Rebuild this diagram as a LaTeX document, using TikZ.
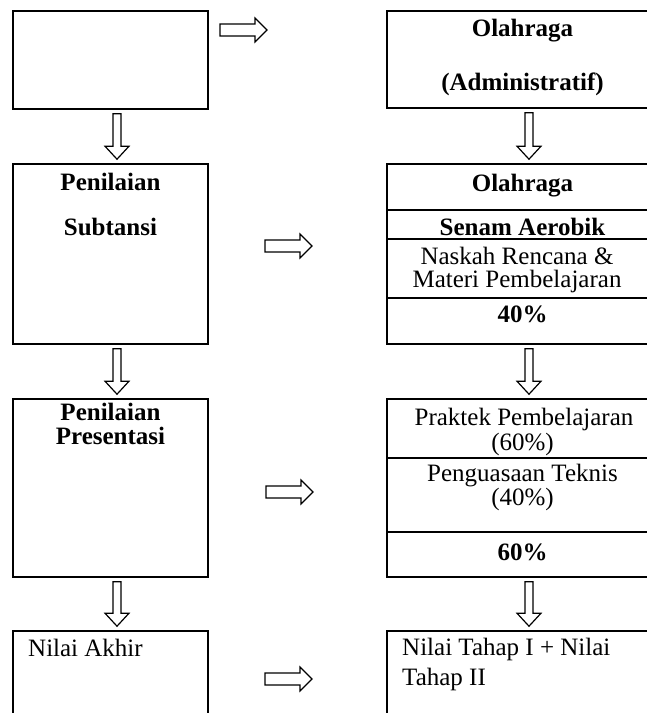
\documentclass[tikz,border=0pt]{standalone}
\usepackage{fontspec}
\setmainfont{Liberation Serif}
\usepackage{tikz}
\usetikzlibrary{calc}
\def\BIG{\fontsize{25}{22}\selectfont}
\def\RA#1{\draw [blk] (#1) ++(0,-6) -- ++(35,0) -- ++(0,-6) -- ++(12,12) -- ++(-12,12) -- ++(0,-6) -- ++(-35,0) -- cycle;}
\def\DA#1#2{\draw [blk] let \p1=([xshift=6.5pt]#1.south), \p2=(#2.north) in (\x1-4pt,\y1-4pt) -- (\x1+4pt,\y1-4pt) -- (\x1+4pt,\y2+17pt) -- (\x1+12pt,\y2+17pt) -- (\x1,\y2+4pt) -- (\x1-12pt,\y2+17pt) -- (\x1-4pt,\y2+17pt) -- cycle;}
\def\SEP#1#2{\draw [sep] (#1.west |- 0,#2) -- (#1.east |- 0,#2);}

\begin{document}
\begin{tikzpicture}[x=1pt,y=-1pt,font=\BIG,
  lbox/.style={draw,line width=1.6pt,minimum width=195pt,inner sep=0pt},
  rbox/.style={draw,line width=1.6pt,minimum width=271pt,inner sep=0pt},
  sep/.style={line width=1.6pt},
  blk/.style={draw,line width=1.2pt,line join=miter,fill=white},
  txt/.style={anchor=base,inner sep=0pt},
  bold/.style={txt,font=\BIG\bfseries}]
\useasboundingbox (0,0) rectangle (647,713);
\clip (0,0) rectangle (647,713);
% left column
\node [lbox,minimum height=98pt] (l1) at (110.5,60) {};
\node [lbox,minimum height=180pt] (l2) at (110.5,254) {};
\node [lbox,minimum height=178pt] (l3) at (110.5,488) {};
\node [lbox,minimum height=110pt] (l4) at (110.5,686) {};
\node [bold] (pen1) at (110.5,190) {Penilaian};
\node [bold] (sub) at (110.5,235) {Subtansi};
\node [bold] (pen2) at (110.5,420) {Penilaian};
\node [bold] (pres) at (110.5,444) {Presentasi};
\node [txt,anchor=base west] (akhir) at (28,656) {Nilai Akhir};
% right column
\node [rbox,minimum height=97pt] (r1) at (522.5,59.5) {};
\node [rbox,minimum height=180pt] (r2) at (522.5,254) {};
\node [rbox,minimum height=178pt] (r3) at (522.5,488) {};
\node [rbox,minimum height=110pt] (r4) at (522.5,686) {};
\SEP{r2}{210} \SEP{r2}{239} \SEP{r2}{298}
\SEP{r3}{458} \SEP{r3}{532}
\node [bold] (ola1) at (522.5,36) {Olahraga};
\node [bold] (adm) at (522.5,90) {(Administratif)};
\node [bold] (ola2) at (522.5,191) {Olahraga};
\node [bold] (senam) at (522.5,235) {Senam Aerobik};
\node [txt] (naskah) at (517,264) {Naskah Rencana \&};
\node [txt] (materi) at (517,287) {Materi Pembelajaran};
\node [bold] (p40) at (522.5,322) {40\%};
\node [txt] (praktek) at (524,425) {Praktek Pembelajaran};
\node [txt] (p60a) at (522.5,450) {(60\%)};
\node [txt] (kuasa) at (522.5,481) {Penguasaan Teknis};
\node [txt] (p40a) at (522.5,505) {(40\%)};
\node [bold] (p60) at (522.5,560) {60\%};
\node [txt,anchor=base west] (tahap1) at (402,655) {Nilai Tahap I + Nilai};
\node [txt,anchor=base west] (tahap2) at (402,685) {Tahap II};
% arrows
\coordinate (a1) at (220,30);
\coordinate (a2) at (265,246);
\coordinate (a3) at (266,492);
\coordinate (a4) at (265,679);
\RA{a1} \RA{a2} \RA{a3} \RA{a4}
\DA{l1}{l2} \DA{l2}{l3} \DA{l3}{l4}
\DA{r1}{r2} \DA{r2}{r3} \DA{r3}{r4}
\end{tikzpicture}
\end{document}
